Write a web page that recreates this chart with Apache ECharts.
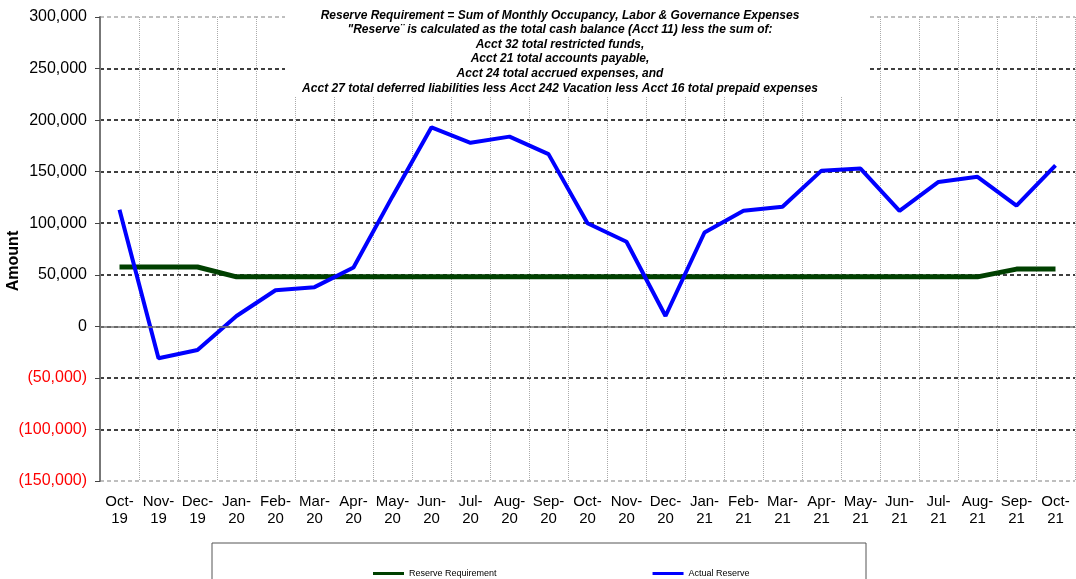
<!DOCTYPE html>
<html>
<head>
<meta charset="utf-8">
<script src="https://cdn.jsdelivr.net/npm/echarts@6/dist/echarts.min.js"></script>
<style>
  html, body { margin: 0; padding: 0; background: #fff; }
  #chart { width: 1076px; height: 579px; }
</style>
</head>
<body>
<div id="chart"></div>
<script>
const months = ['Oct-\n19', 'Nov-\n19', 'Dec-\n19', 'Jan-\n20', 'Feb-\n20', 'Mar-\n20', 'Apr-\n20', 'May-\n20',
  'Jun-\n20', 'Jul-\n20', 'Aug-\n20', 'Sep-\n20', 'Oct-\n20', 'Nov-\n20', 'Dec-\n20', 'Jan-\n21', 'Feb-\n21',
  'Mar-\n21', 'Apr-\n21', 'May-\n21', 'Jun-\n21', 'Jul-\n21', 'Aug-\n21', 'Sep-\n21', 'Oct-\n21']

const reserveRequirement = [57500, 57500, 57500, 48000, 48000, 48000, 48000, 48000, 48000, 48000, 48000, 48000, 48000,
  48000, 48000, 48000, 48000, 48000, 48000, 48000, 48000, 48000, 48000, 55500, 55500]

const actualReserve = [113000, -31000, -23000, 10000, 35000, 38000, 57000, 126000, 193000, 178000, 184000, 167000,
  100000, 82000, 10000, 91000, 112000, 116000, 151000, 153000, 112000, 140000, 145000, 117000, 156000]

const titleLines = [
  'Reserve Requirement = Sum of Monthly Occupancy, Labor & Governance Expenses',
  '"Reserve¨ is calculated as the total cash balance (Acct 11) less the sum of:',
  'Acct 32 total restricted funds,',
  'Acct 21 total accounts payable,',
  'Acct 24 total accrued expenses, and',
  'Acct 27 total deferred liabilities less Acct 242 Vacation less Acct 16 total prepaid expenses'
]

const font = '"Liberation Sans", Arial, sans-serif'

function fmtAmount(v) {
  const s = Math.abs(v).toLocaleString('en-US')
  return v < 0 ? '(' + s + ')' : s
}

const chart = echarts.init(document.getElementById('chart'))

chart.setOption({
  animation: false,
  textStyle: { fontFamily: font },
  grid: { left: 100, right: 1, top: 17, bottom: 98, outerBoundsMode: 'none', containLabel: false },
  legend: {
    left: 368,
    top: 564,
    itemWidth: 31,
    itemHeight: 3,
    itemGap: 156,
    icon: 'rect',
    textStyle: { fontSize: 9, color: '#000' },
    data: ['Reserve Requirement', 'Actual Reserve']
  },
  xAxis: {
    type: 'category',
    data: months,
    boundaryGap: true,
    axisLine: { show: false },
    axisTick: { show: false },
    axisLabel: { color: '#000', fontSize: 15, lineHeight: 17, margin: 12, interval: 0 },
    splitLine: { show: true, lineStyle: { color: '#aaa', type: 'dotted', width: 1 } }
  },
  yAxis: {
    type: 'value',
    min: -150000,
    max: 300000,
    interval: 50000,
    name: 'Amount',
    nameLocation: 'middle',
    nameGap: 78,
    nameMoveOverlap: false,
    nameTextStyle: { fontSize: 16, fontWeight: 'bold', color: '#000', padding: [0, 24, 0, 0] },
    axisLine: { show: true, lineStyle: { color: '#777', width: 2 } },
    axisTick: { show: true, length: 5, lineStyle: { color: '#444' } },
    axisLabel: {
      fontSize: 16,
      margin: 13,
      formatter: fmtAmount,
      color: function (v) { return Number(v) < 0 ? '#ff0000' : '#000' }
    },
    splitLine: {
      show: true,
      lineStyle: {
        color: ['#aaa', '#000', '#000', '#000', '#000', '#000', '#000', '#000', '#000', '#aaa'],
        type: [4, 3],
        width: 1.5
      }
    }
  },
  graphic: [
    {
      type: 'rect',
      z: 50,
      shape: { x: 285, y: 0, width: 583, height: 97 },
      style: { fill: '#fff' }
    },
    {
      type: 'text',
      z: 51,
      x: 560,
      y: 8,
      style: {
        text: titleLines.join('\n'),
        align: 'center',
        verticalAlign: 'top',
        font: 'italic bold 12px "Liberation Sans", Arial, sans-serif',
        lineHeight: 14.6,
        fill: '#000'
      }
    },
    {
      type: 'rect',
      z: 50,
      shape: { x: 212, y: 543, width: 654, height: 40 },
      style: { fill: 'none', stroke: '#555', lineWidth: 1 }
    }
  ],
  series: [
    {
      name: 'Reserve Requirement',
      type: 'line',
      data: reserveRequirement,
      symbol: 'none',
      z: 3,
      lineStyle: { color: '#004000', width: 5 },
      itemStyle: { color: '#004000' },
      markLine: {
        silent: true,
        symbol: 'none',
        label: { show: false },
        lineStyle: { color: '#777', type: 'solid', width: 1.5 },
        data: [{ yAxis: 0 }]
      }
    },
    {
      name: 'Actual Reserve',
      type: 'line',
      data: actualReserve,
      symbol: 'none',
      z: 4,
      lineStyle: { color: '#0000ff', width: 4 },
      itemStyle: { color: '#0000ff' }
    }
  ]
})
</script>
</body>
</html>
